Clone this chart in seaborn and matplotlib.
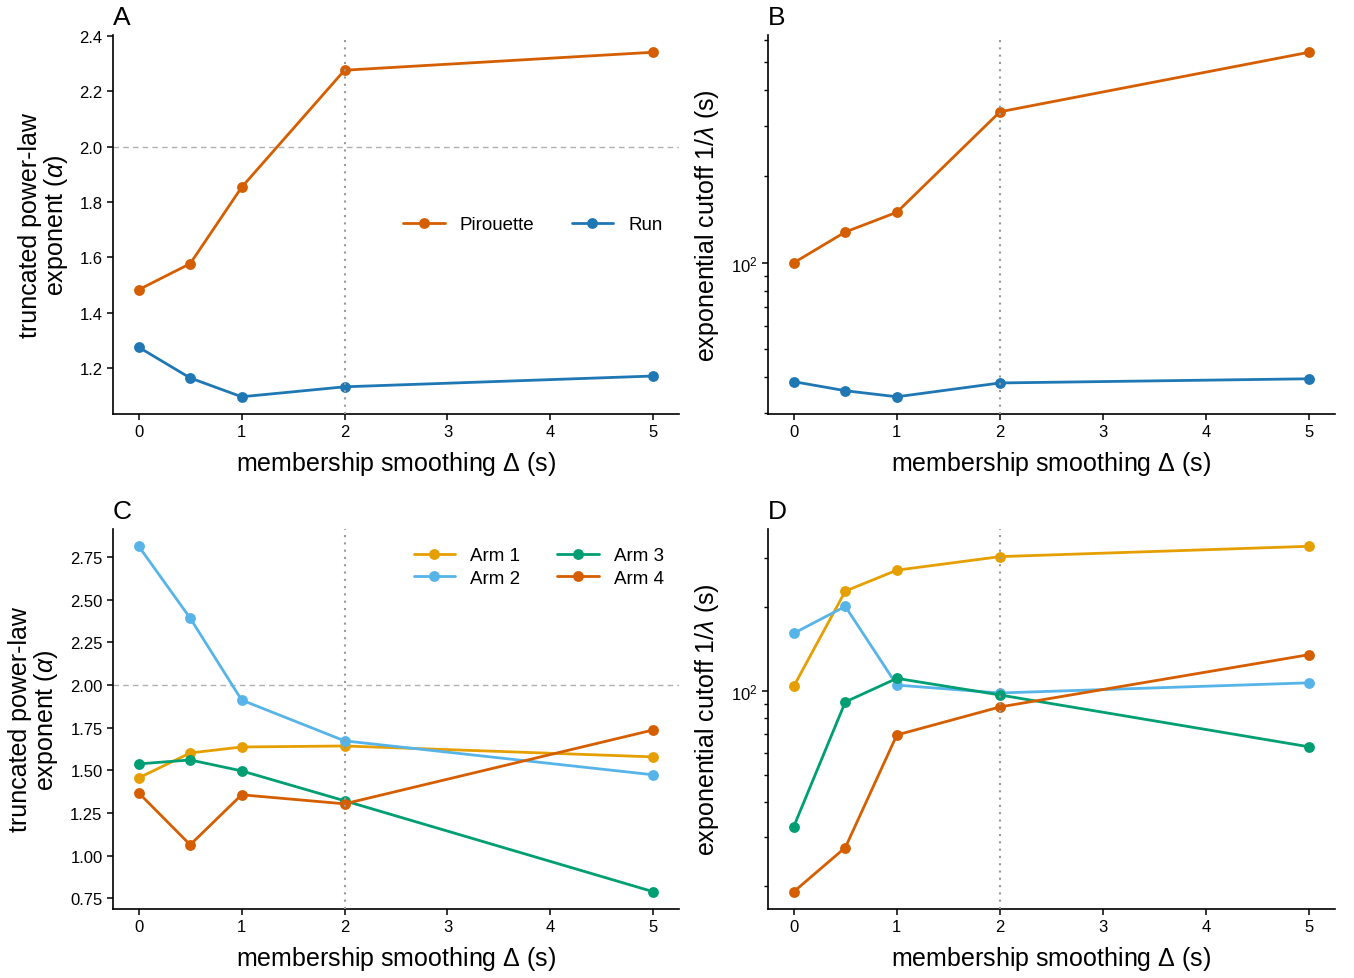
import numpy as np
import pandas as pd
import matplotlib
matplotlib.use("Agg")
import matplotlib.pyplot as plt
from matplotlib.lines import Line2D
from matplotlib.ticker import NullFormatter, LogLocator
import seaborn as sns

# smoothing window values (s)
smoothing = [0, 0.5, 1, 2, 5]

# truncated power-law exponent, behaviour states
alpha_pirouette = [1.483, 1.577, 1.853, 2.276, 2.341]
alpha_run = [1.275, 1.164, 1.096, 1.132, 1.171]

# exponential cutoff 1/lambda (s), behaviour states
cutoff_pirouette = [100, 128, 150, 336, 542]
cutoff_run = [38.5, 35.8, 34.1, 38.1, 39.4]

# truncated power-law exponent, per arm
alpha_arm1 = [1.456, 1.602, 1.637, 1.643, 1.579]
alpha_arm2 = [2.813, 2.392, 1.912, 1.673, 1.474]
alpha_arm3 = [1.538, 1.561, 1.497, 1.322, 0.789]
alpha_arm4 = [1.368, 1.064, 1.357, 1.304, 1.737]

# exponential cutoff 1/lambda (s), per arm
cutoff_arm1 = [104, 228, 271, 303, 330]
cutoff_arm2 = [161, 201, 105, 98.4, 107]
cutoff_arm3 = [32.7, 91.4, 111, 96.8, 63.1]
cutoff_arm4 = [19.1, 27.5, 69.6, 87.7, 135]

states = ["Pirouette", "Run"]
arms = ["Arm 1", "Arm 2", "Arm 3", "Arm 4"]
state_colors = {"Pirouette": "#D55E00", "Run": "#1F77B4"}
arm_colors = {"Arm 1": "#E69F00", "Arm 2": "#56B4E9", "Arm 3": "#009E73", "Arm 4": "#D55E00"}


def long_frame(series):
    rows = []
    for name, vals in series.items():
        for x, v in zip(smoothing, vals):
            rows.append({"smoothing": x, "value": v, "group": name})
    return pd.DataFrame(rows)


df_alpha_state = long_frame({"Pirouette": alpha_pirouette, "Run": alpha_run})
df_cut_state = long_frame({"Pirouette": cutoff_pirouette, "Run": cutoff_run})
df_alpha_arm = long_frame(dict(zip(arms, [alpha_arm1, alpha_arm2, alpha_arm3, alpha_arm4])))
df_cut_arm = long_frame(dict(zip(arms, [cutoff_arm1, cutoff_arm2, cutoff_arm3, cutoff_arm4])))

sns.set_theme(style="ticks")
plt.rcParams["font.family"] = ["Liberation Sans", "DejaVu Sans"]
plt.rcParams["mathtext.fontset"] = "custom"
plt.rcParams["mathtext.rm"] = "Liberation Sans"
plt.rcParams["mathtext.it"] = "Liberation Sans:italic"
for key in ("text.color", "axes.labelcolor", "xtick.color", "ytick.color", "axes.edgecolor"):
    plt.rcParams[key] = "black"
plt.rcParams["xtick.labelsize"] = 12
plt.rcParams["ytick.labelsize"] = 12
plt.rcParams["axes.linewidth"] = 1.2
plt.rcParams["xtick.major.width"] = 1.1
plt.rcParams["ytick.major.width"] = 1.1
plt.rcParams["ytick.minor.width"] = 1.0
plt.rcParams["xtick.major.size"] = 4
plt.rcParams["ytick.major.size"] = 4
plt.rcParams["ytick.minor.size"] = 3

W, H = 1354, 979
fig = plt.figure(figsize=(W / 100, H / 100), dpi=100)


def rect(left, right, top, bottom):
    return [left / W, 1 - bottom / H, (right - left) / W, (bottom - top) / H]


axA = fig.add_axes(rect(113, 679, 36, 415))
axB = fig.add_axes(rect(768, 1335, 36, 415))
axC = fig.add_axes(rect(113, 679, 530, 910))
axD = fig.add_axes(rect(768, 1335, 530, 910))

line_kw = dict(marker="o", markersize=7.8, markeredgewidth=0, linewidth=2, legend=False)

sns.lineplot(data=df_alpha_state, x="smoothing", y="value", hue="group",
             hue_order=states, palette=state_colors, ax=axA, **line_kw)
sns.lineplot(data=df_cut_state, x="smoothing", y="value", hue="group",
             hue_order=states, palette=state_colors, ax=axB, **line_kw)
sns.lineplot(data=df_alpha_arm, x="smoothing", y="value", hue="group",
             hue_order=arms, palette=arm_colors, ax=axC, **line_kw)
sns.lineplot(data=df_cut_arm, x="smoothing", y="value", hue="group",
             hue_order=arms, palette=arm_colors, ax=axD, **line_kw)

for ax in (axB, axD):
    ax.set_yscale("log")
    ax.yaxis.set_minor_locator(LogLocator(base=10, subs=np.arange(2, 10)))
    ax.yaxis.set_minor_formatter(NullFormatter())

for ax in (axA, axC):
    ax.axhline(2.0, color="#b0b0b0", linestyle=(0, (4, 3)), linewidth=1.0, zorder=1)

alpha_label = "truncated power-law\nexponent ($\\alpha$)"
cut_label = "exponential cutoff 1/$\\lambda$ (s)"

for ax, lab, ylab in ((axA, "A", alpha_label), (axB, "B", cut_label),
                      (axC, "C", alpha_label), (axD, "D", cut_label)):
    ax.axvline(2, color="#999999", linestyle=(0, (1, 2.5)), linewidth=1.5, zorder=4)
    ax.set_xlim(-0.25, 5.25)
    ax.set_xticks([0, 1, 2, 3, 4, 5])
    ax.set_xlabel("membership smoothing $\\Delta$ (s)", fontsize=18, labelpad=7)
    ax.set_ylabel(ylab, fontsize=18, labelpad=7, linespacing=1.0)
    ax.text(0.0, 1.015, lab, transform=ax.transAxes, fontsize=19,
            ha="left", va="bottom")
    sns.despine(ax=ax)

axA.set_yticks([1.2, 1.4, 1.6, 1.8, 2.0, 2.2, 2.4])
axA.set_yticklabels(["1.2", "1.4", "1.6", "1.8", "2.0", "2.2", "2.4"])
axC.set_yticks([0.75, 1.0, 1.25, 1.5, 1.75, 2.0, 2.25, 2.5, 2.75])
axC.set_yticklabels(["0.75", "1.00", "1.25", "1.50", "1.75", "2.00", "2.25", "2.50", "2.75"])


def handles(names, colors):
    return [Line2D([], [], color=colors[n], marker="o", markersize=7.8,
                   markeredgewidth=0, linewidth=2, label=n) for n in names]


axA.legend(handles=handles(states, state_colors), loc="center",
           bbox_to_anchor=(0.742, 0.50), ncol=2, frameon=False, fontsize=13.5,
           columnspacing=2.0, handlelength=2.2)
axC.legend(handles=handles(arms, arm_colors), loc="center",
           bbox_to_anchor=(0.752, 0.90), ncol=2, frameon=False, fontsize=13.5,
           columnspacing=2.0, handlelength=2.2, labelspacing=0.3)

fig.savefig("out.png", dpi=100)
